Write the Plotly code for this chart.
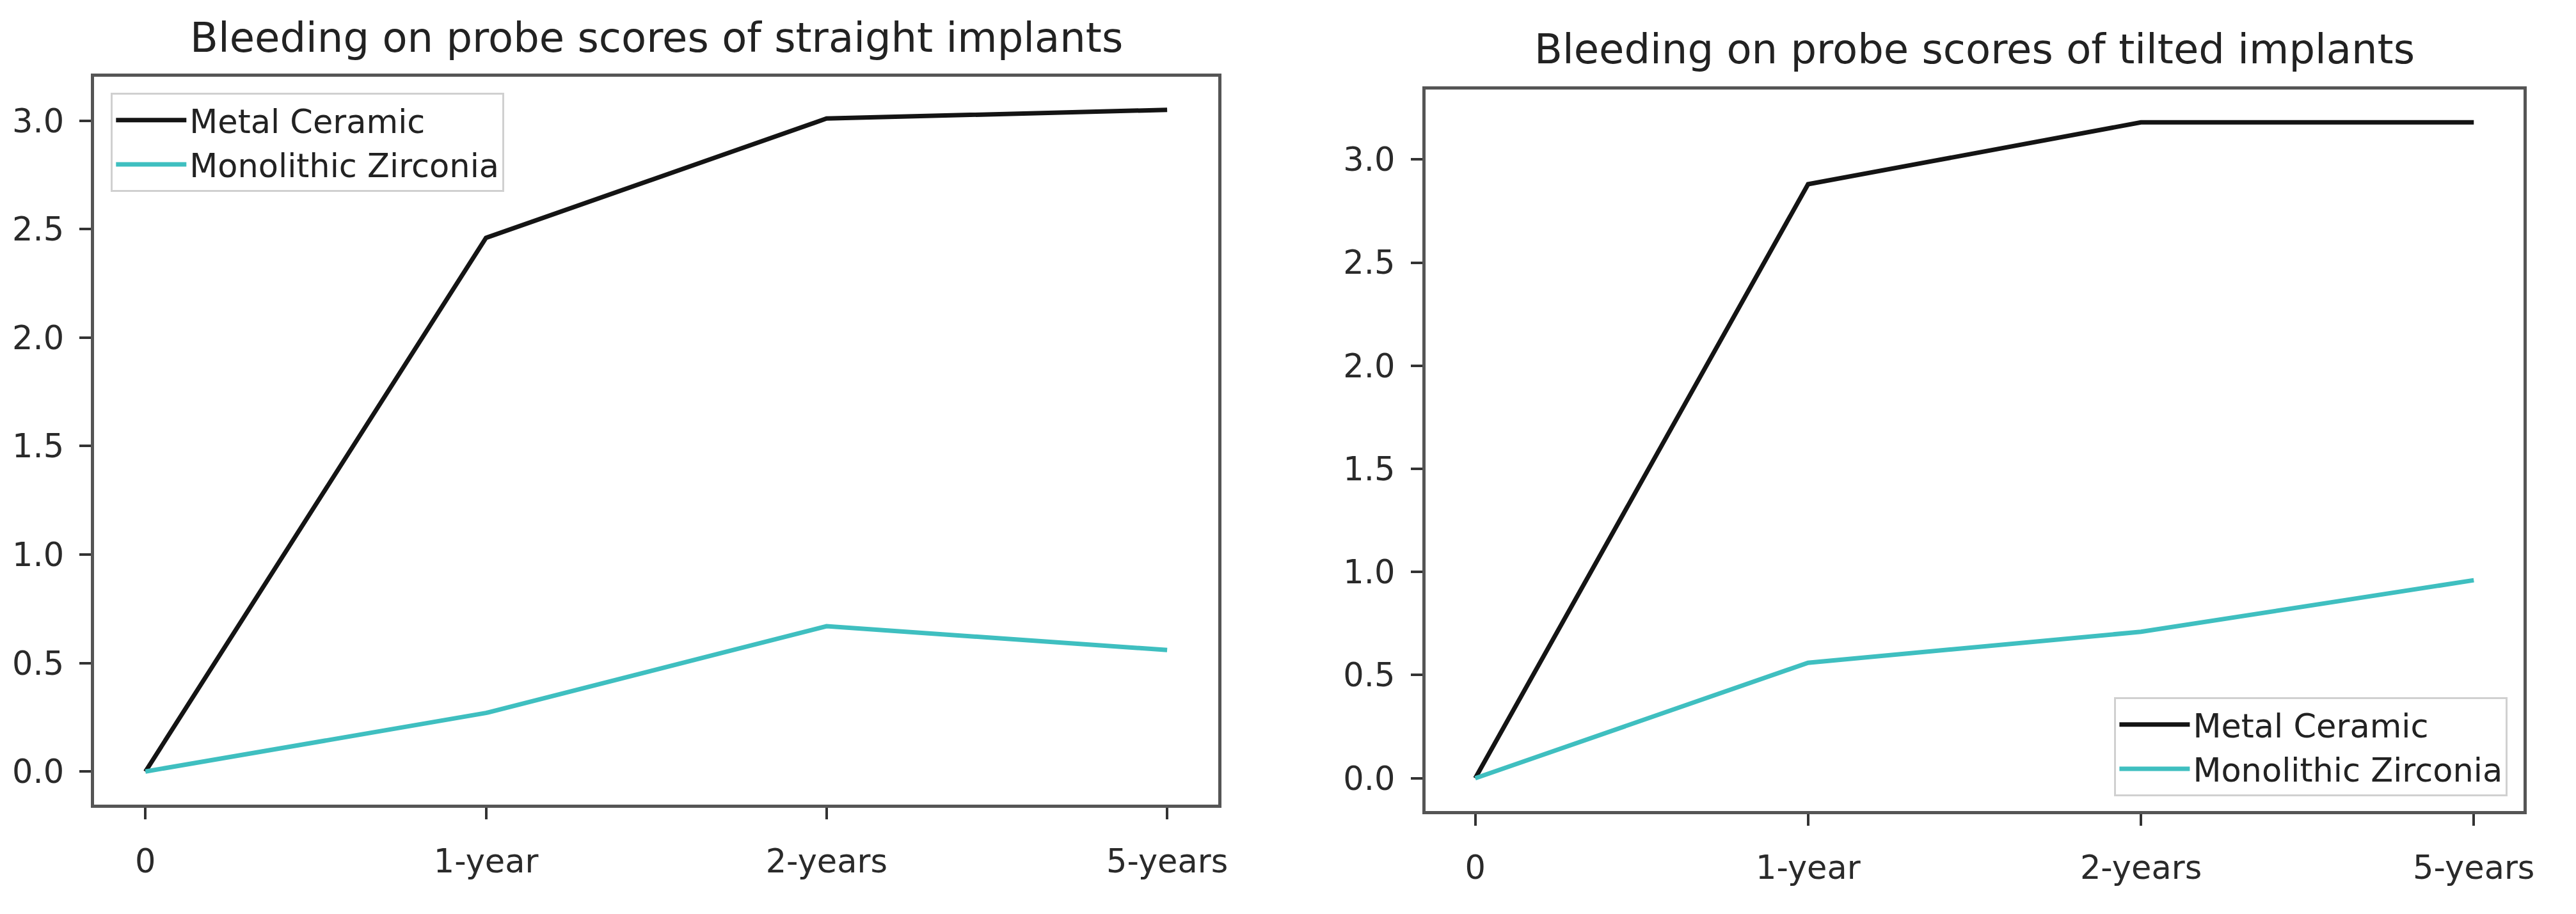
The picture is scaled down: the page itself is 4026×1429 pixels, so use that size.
import plotly.graph_objects as go

categories = ["0", "1-year", "2-years", "5-years"]
series_names = ["Metal Ceramic", "Monolithic Zirconia"]
straight_metal_ceramic = [0.0, 2.46, 3.01, 3.05]
straight_monolithic_zirconia = [0.0, 0.27, 0.67, 0.56]
tilted_metal_ceramic = [0.0, 2.88, 3.18, 3.18]
tilted_monolithic_zirconia = [0.0, 0.56, 0.71, 0.96]
titles = ["Bleeding on probe scores of straight implants",
          "Bleeding on probe scores of tilted implants"]
y_ticks = [0.0, 0.5, 1.0, 1.5, 2.0, 2.5, 3.0]

W, H = 4026, 1429
FONT = "DejaVu Sans"
colors = ["#141414", "#3fbfc0"]

fig = go.Figure()
panels = [
    (straight_metal_ceramic, straight_monolithic_zirconia, "x", "y", "legend"),
    (tilted_metal_ceramic, tilted_monolithic_zirconia, "x2", "y2", "legend2"),
]
for a, b, xa, ya, lg in panels:
    for vals, name, col in zip([a, b], series_names, colors):
        fig.add_trace(go.Scatter(x=categories, y=vals, name=name, mode="lines",
                                 line=dict(color=col, width=7), xaxis=xa, yaxis=ya,
                                 legend=lg))

def yrange(*ss):
    lo = min(min(s) for s in ss); hi = max(max(s) for s in ss)
    m = 0.05 * (hi - lo)
    return [lo - m, hi + m]

axis_common = dict(showline=True, mirror=True, linecolor="#555", linewidth=5,
                   ticks="outside", ticklen=18, tickwidth=4, tickcolor="#333",
                   showgrid=False, zeroline=False,
                   tickfont=dict(family=FONT, size=51, color="#2a2a2a"))

legend_common = dict(bgcolor="white", bordercolor="#d0d0d0", borderwidth=3,
                     font=dict(family=FONT, size=51, color="#222"), itemwidth=110,
                     tracegroupgap=0)

fig.update_layout(
    width=W, height=H, margin=dict(l=0, r=0, t=0, b=0),
    paper_bgcolor="white", plot_bgcolor="white",
    xaxis=dict(domain=[140 / W, 1904 / W], type="category", range=[-0.15, 3.15],
               anchor="y", ticklabelstandoff=22, **axis_common),
    yaxis=dict(domain=[1 - 1250 / H, 1 - 112 / H], range=yrange(straight_metal_ceramic, straight_monolithic_zirconia),
               tickvals=y_ticks, tickformat=".1f", anchor="x", ticklabelstandoff=14, **axis_common),
    xaxis2=dict(domain=[2229 / W, 3953 / W], type="category", range=[-0.15, 3.15],
                anchor="y2", ticklabelstandoff=22, **axis_common),
    yaxis2=dict(domain=[1 - 1260 / H, 1 - 132 / H], range=yrange(tilted_metal_ceramic, tilted_monolithic_zirconia),
                tickvals=y_ticks, tickformat=".1f", anchor="x2", ticklabelstandoff=14, **axis_common),
    legend=dict(x=166 / W, y=1 - 137 / H, xanchor="left", yanchor="top", **legend_common),
    legend2=dict(x=3928 / W, y=1 - 1237 / H, xanchor="right", yanchor="bottom", **legend_common),
    showlegend=True,
)

fig.add_annotation(text=titles[0], x=(140 + 1904) / 2 / W, y=1 - 90 / H, xref="paper", yref="paper",
                   xanchor="center", yanchor="bottom", showarrow=False,
                   font=dict(family=FONT, size=64, color="#222"))
fig.add_annotation(text=titles[1], x=(2229 + 3953) / 2 / W, y=1 - 108 / H, xref="paper", yref="paper",
                   xanchor="center", yanchor="bottom", showarrow=False,
                   font=dict(family=FONT, size=64, color="#222"))

fig.write_html("out.html")
